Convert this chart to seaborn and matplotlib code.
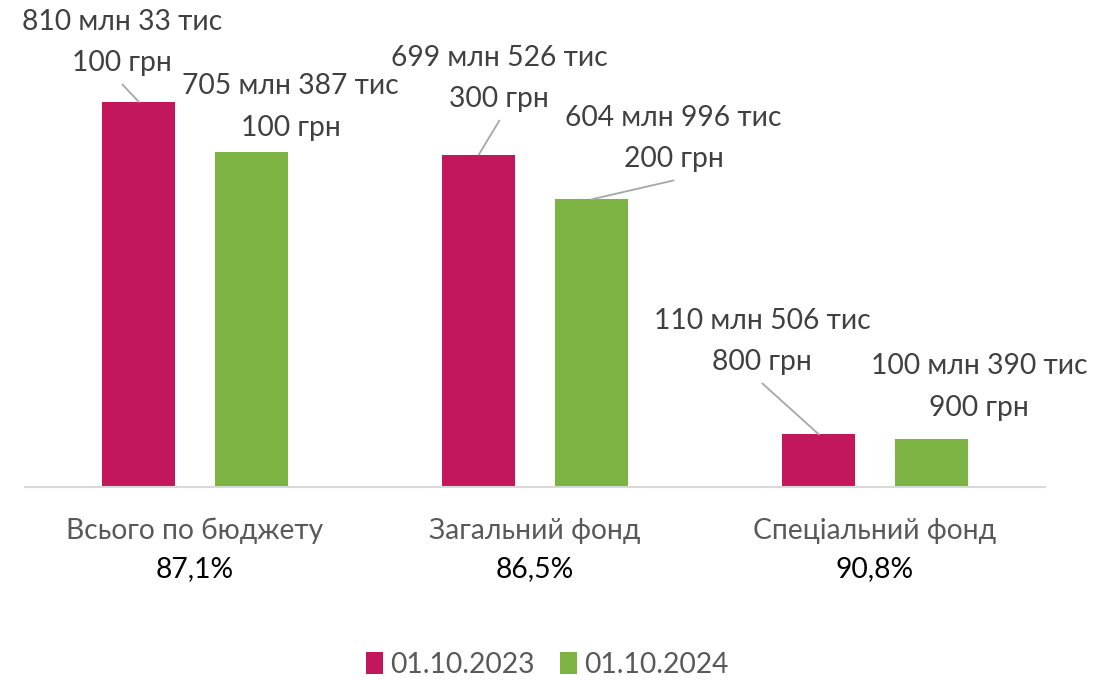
import matplotlib
matplotlib.use("Agg")
import matplotlib.pyplot as plt
import seaborn as sns
import pandas as pd
from matplotlib.transforms import blended_transform_factory

# ---- data ----
categories = ["Всього по бюджету", "Загальний фонд", "Спеціальний фонд"]
percents = ["87,1%", "86,5%", "90,8%"]
series = ["01.10.2023", "01.10.2024"]
values_2023 = [810.0331, 699.5263, 110.5068]   # млн грн
values_2024 = [705.3871, 604.9962, 100.3909]
labels_2023 = ["810 млн 33 тис\n100 грн", "699 млн 526 тис\n300 грн", "110 млн 506 тис\n800 грн"]
labels_2024 = ["705 млн 387 тис\n100 грн", "604 млн 996 тис\n200 грн", "100 млн 390 тис\n900 грн"]

df = pd.DataFrame({
    "cat": categories * 2,
    "series": [series[0]] * 3 + [series[1]] * 3,
    "value": values_2023 + values_2024,
})

sns.set_theme(style="white")
FONT = ["Lato", "Open Sans", "DejaVu Sans"]
plt.rcParams["font.family"] = FONT

FS = 20.3
colors = ["#C2185B", "#7CB342"]
fig = plt.figure(figsize=(11.14, 6.8), dpi=100)
ax = fig.add_axes([25 / 1114, (680 - 487) / 680, 1020 / 1114, 475.3 / 680])

sns.barplot(data=df, x="cat", y="value", hue="series", hue_order=series,
            palette=colors, width=0.66, gap=0.35, ax=ax, legend=True,
            saturation=1, edgecolor="none")

ax.set_xlim(-0.5, 2.5)
ax.set_ylim(0, 1000)
ax.set_xlabel("")
ax.set_ylabel("")
ax.set_yticks([])
for s in ["top", "right", "left"]:
    ax.spines[s].set_visible(False)
ax.spines["bottom"].set_color("#D9D9D9")
ax.spines["bottom"].set_linewidth(1.5)
ax.tick_params(axis="x", length=0, pad=22, labelsize=FS, labelcolor="#595959")

# percentages below category labels
trans = blended_transform_factory(ax.transData, ax.transAxes)
for i, p in enumerate(percents):
    ax.annotate(p, xy=(i, 0), xycoords=trans, xytext=(0, -82),
                textcoords="offset pixels", ha="center", va="center",
                fontsize=FS, color="black")

# data labels with leader lines (offsets in pixels relative to bar top)
offs_2023 = [(-16.5, 59.5, True), (20.5, 76, True), (-56.5, 93, True)]
offs_2024 = [(39.5, 45, False), (82.5, 61, True), (48, 52, False)]

patches = [p for p in ax.patches if p.get_height() > 0]
patches = sorted(patches, key=lambda p: p.get_x())
for i in range(3):
    for j, (labs, offs) in enumerate([(labels_2023, offs_2023), (labels_2024, offs_2024)]):
        bar = patches[2 * i + j]
        x = bar.get_x() + bar.get_width() / 2
        y = bar.get_height()
        dx, dy, line = offs[i]
        ax.annotate(labs[i], xy=(x, y), xytext=(dx, dy), textcoords="offset pixels",
                    ha="center", va="center", fontsize=FS, color="#404040",
                    linespacing=1.75, annotation_clip=False)
        if line:
            ax.annotate("", xy=(x, y), xytext=(dx, dy - 42), textcoords="offset pixels",
                        arrowprops=dict(arrowstyle="-", color="#A6A6A6", lw=1.3,
                                        shrinkA=0, shrinkB=0),
                        annotation_clip=False)

# legend
handles, leg_labels = ax.get_legend_handles_labels()
ax.get_legend().remove()
fig.legend(handles, leg_labels, loc="center", bbox_to_anchor=(0.491, 0.022),
           ncol=2, frameon=False, fontsize=FS, labelcolor="#595959",
           handlelength=0.6, handleheight=0.8, handletextpad=0.25, columnspacing=0.9)

fig.savefig("out.png", dpi=100)
